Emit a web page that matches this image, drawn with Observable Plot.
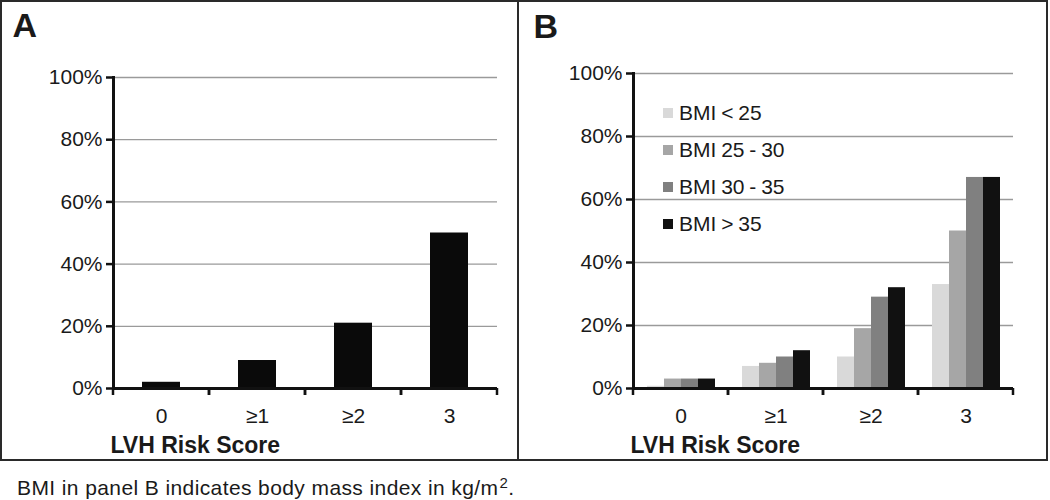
<!DOCTYPE html>
<html>
<head>
<meta charset="utf-8">
<script src="https://cdn.jsdelivr.net/npm/d3@7"></script>
<script src="https://cdn.jsdelivr.net/npm/@observablehq/plot@0.6"></script>
<style>
  html, body { margin: 0; padding: 0; background: #fff; }
  #root { position: relative; width: 1050px; height: 500px; font-family: "Liberation Sans", Arial, sans-serif; color: #1a1a1a; overflow: hidden; }
  #panelA { position: absolute; left: 0; top: 0; }
  #panelB { position: absolute; left: 518px; top: 0; }
  .box { position: absolute; left: 0; top: 0; width: 1044px; height: 457px; border: 2px solid #2a2a2a; pointer-events: none; }
  .divider { position: absolute; left: 517px; top: 0; width: 2px; height: 461px; background: #2a2a2a; }
  #legend { position: absolute; left: 663px; top: 94px; font-family: "Liberation Sans", Arial, sans-serif; }
  #legend > div { font-family: inherit; font-size: 21px; margin: 0; min-height: 0; color: #1a1a1a; }
  #legend .bmi-swatch { height: 37px; padding: 0; margin: 0; display: flex; align-items: center; word-spacing: -1px; }
  #legend .bmi-swatch svg { margin-right: 6px; }
  #caption { position: absolute; left: 17px; top: 477px; font-size: 21px; line-height: 21px; letter-spacing: 0.4px; white-space: nowrap; }
  #caption sup { font-size: 15px; vertical-align: 7px; line-height: 0; margin-left: 1px; }
  g[aria-label="xlabel"] text { letter-spacing: 0.8px; word-spacing: -3px; }
</style>
</head>
<body>
<div id="root">
  <div id="panelA"></div>
  <div id="panelB"></div>
  <div id="legend"></div>
  <div class="box"></div>
  <div class="divider"></div>
  <div id="caption">BMI in panel B indicates body mass index in kg/m<sup>2</sup>.</div>
</div>
<script>
// ---- data ----
const scores = ["0", "≥1", "≥2", "3"];
const overall = [2, 9, 21, 50];
const groups = ["BMI < 25", "BMI 25 - 30", "BMI 30 - 35", "BMI > 35"];
const bmiUnder25 = [0.7, 7, 10, 33];
const bmi25to30 = [3, 8, 19, 50];
const bmi30to35 = [3, 10, 29, 67];
const bmiOver35 = [3, 12, 32, 67];
const groupColors = ["#d9d9d9", "#a6a6a6", "#808080", "#111111"];
const yTicks = [0, 20, 40, 60, 80, 100];
const panelLetters = ["A", "B"];
const xTitle = "LVH Risk Score";

// ---- tables ----
const dataA = scores.map((s, i) => ({score: s, group: "All", value: overall[i]}));
const seriesB = [bmiUnder25, bmi25to30, bmi30to35, bmiOver35];
const dataB = groups.flatMap((g, gi) => scores.map((s, i) => ({score: s, group: g, value: seriesB[gi][i]})));

const ink = "#111";
const font = "Liberation Sans, Arial, sans-serif";

// boundary ticks below the category axis, derived from the fx scale / facet frame
function makeBandTicks(totalWidth) {
  return function(index, scales, values, dimensions) {
    const {width, height, marginLeft, marginRight, marginBottom} = dimensions;
    const y0 = height - marginBottom;
    let xs;
    if (width !== totalWidth) {
      xs = [marginLeft, width - marginRight];
    } else {
      const fx = scales.fx;
      xs = [];
      for (const d of fx.domain()) { xs.push(fx(d), fx(d) + fx.bandwidth()); }
    }
    const g = d3.create("svg:g").attr("stroke", ink).attr("stroke-width", 2.5);
    for (const x of xs) g.append("line").attr("x1", x).attr("x2", x).attr("y1", y0).attr("y2", y0 + 7);
    return g.node();
  };
}

function axesMarks(totalWidth, letter, letterDx, letterDy) {
  return [
    Plot.ruleY([0], {stroke: ink, strokeWidth: 3}),
    Plot.frame({anchor: "left", facetAnchor: "left", stroke: ink, strokeWidth: 3}),
    makeBandTicks(totalWidth),
    Plot.axisY({ticks: yTicks, tickFormat: d => d + "%", tickSize: 7, tickPadding: 4, fontSize: 21, stroke: ink, strokeWidth: 2.5, label: null}),
    Plot.axisFx({anchor: "bottom", tickSize: 0, tickPadding: 20, fontSize: 21, label: null}),
    Plot.text([letter], {frameAnchor: "top-left", facetAnchor: "left", text: d => d, textAnchor: "start", lineAnchor: "top", dx: letterDx, dy: letterDy, fontSize: 34, fontWeight: "bold"}),
    Plot.text([xTitle], {frameAnchor: "bottom-left", facetAnchor: "left", text: d => d, textAnchor: "start", lineAnchor: "middle", dx: -3, dy: 57, fontSize: 23, fontWeight: "bold", ariaLabel: "xlabel"})
  ];
}

const widthA = 518;
const chartA = Plot.plot({
  width: widthA, height: 460,
  marginLeft: 113, marginRight: 21, marginTop: 77, marginBottom: 72,
  style: {fontFamily: font, fontSize: "21px", color: "#1a1a1a", background: "white"},
  fx: {domain: scores, padding: 0},
  x: {domain: ["All"], paddingInner: 0, paddingOuter: 0.76, axis: null},
  y: {domain: [0, 100]},
  marks: [
    Plot.ruleY(yTicks, {stroke: "#9a9a9a", strokeWidth: 1.3}),
    Plot.barY(dataA, {fx: "score", x: "group", y: "value", fill: "#0a0a0a"}),
    ...axesMarks(widthA, panelLetters[0], -101, -65)
  ]
});
document.getElementById("panelA").append(chartA);

const widthB = 532;
const chartB = Plot.plot({
  width: widthB, height: 460,
  marginLeft: 114, marginRight: 37, marginTop: 73, marginBottom: 72,
  style: {fontFamily: font, fontSize: "21px", color: "#1a1a1a", background: "white"},
  fx: {domain: scores, padding: 0},
  x: {domain: groups, paddingInner: 0, paddingOuter: 0.75, axis: null},
  y: {domain: [0, 100]},
  color: {domain: groups, range: groupColors},
  marks: [
    Plot.ruleY(yTicks, {stroke: "#9a9a9a", strokeWidth: 1.3}),
    Plot.barY(dataB, {fx: "score", x: "group", y: "value", fill: "group"}),
    ...axesMarks(widthB, panelLetters[1], -100, -60)
  ]
});
document.getElementById("panelB").append(chartB);

const legend = Plot.legend({
  color: {domain: groups, range: groupColors},
  legend: "swatches", columns: 1, swatchSize: 10, className: "bmi"
});
document.getElementById("legend").append(legend);
</script>
</body>
</html>
